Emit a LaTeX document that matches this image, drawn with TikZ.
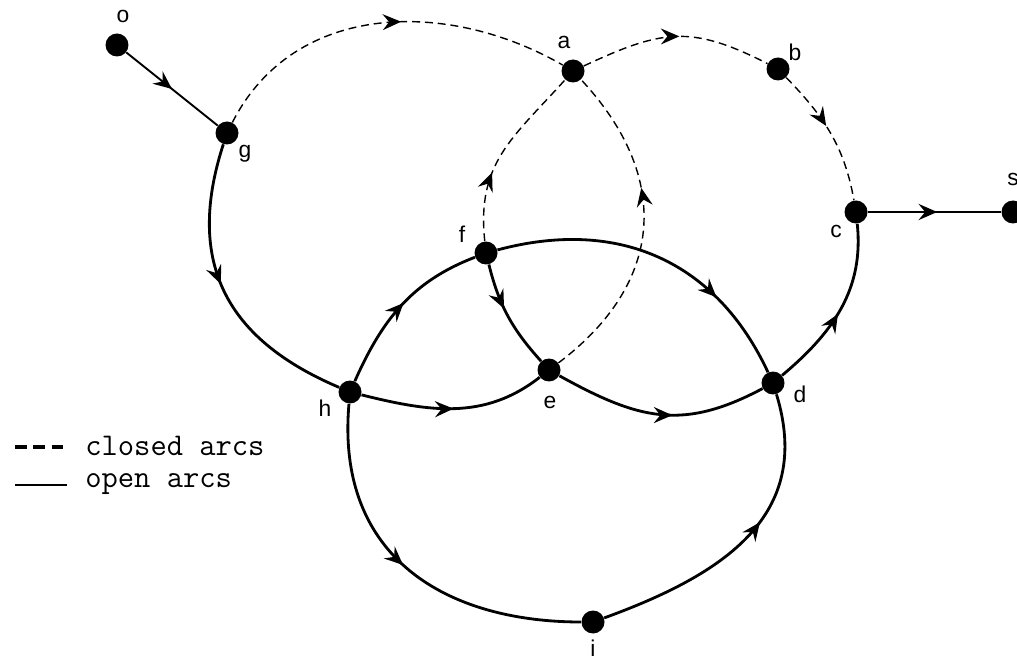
\documentclass[tikz,border=0pt]{standalone}
\usepackage{fontspec}
\setsansfont{Liberation Sans}
\usetikzlibrary{arrows.meta, decorations.markings}

\begin{document}
\begin{tikzpicture}[
    x=0.02cm, y=0.02cm,
    vtx/.style={circle, fill=black, minimum size=4.6mm, inner sep=0pt},
    lbl/.style={font=\sffamily\fontsize{13}{15}\selectfont, inner sep=0pt},
    legtxt/.style={font=\ttfamily\fontsize{18}{21}\selectfont, anchor=base west, inner sep=0pt},
    openarc/.style={line width=1.6pt},
    closedarc/.style={line width=0.8pt, dash pattern=on 4.5pt off 2.8pt},
    midarrow/.style={postaction={decorate}, decoration={markings,
        mark=at position #1 with {\arrow{Stealth[length=3.7mm, width=3.2mm, inset=1.3mm]}}}},
    midarrow/.default=0.5
]

% marco de la figura
\useasboundingbox (0,0) rectangle (1017,663);

% ==========================
% NODOS
% ==========================
\foreach \n/\x/\y in {
    o/117/618, g/227/530, a/573/592, b/778/594, c/856/451, s/1013/451,
    f/486/410, e/549/293, d/773/280, h/350/271, i/593/41
} {
    \node[vtx] (\n) at (\x,\y) {};
}

% Etiquetas de los nodos
\foreach \n/\x/\y in {
    o/123/647, g/245/509, a/564/621, b/795/611, c/836/432, s/1013/484,
    f/462/429, e/550/261, d/800/269, h/325/255, i/593/15
} {
    \node[lbl] (\n-lbl) at (\x,\y) {\n};
}

% ==========================
% ARCOS ABIERTOS
% ==========================
\draw[line width=1.1pt, midarrow=0.5] (o) -- (g);
\draw[openarc, midarrow=0.52] (c) -- (s);

\foreach \src/\dst/\out/\in/\lo/\li/\pos in {
    g/h/-108/157/1.2/1.15/0.47,
    h/e/-14/218/1.0/1.0/0.5,
    h/f/66/201/1.0/1.0/0.52,
    f/e/-76/132/1.0/1.0/0.42,
    f/d/15/115/1.09/1.05/0.72,
    e/d/-29/208/1.14/1.14/0.56,
    d/c/40/-84/1.0/1.0/0.47,
    h/i/-95/180/1.25/1.07/0.48,
    i/d/20/-73/1.15/1.15/0.58
} {
    \draw[openarc, midarrow=\pos] (\src) to[out=\out, in=\in, out looseness=\lo, in looseness=\li] (\dst);
}

% ==========================
% ARCOS CERRADOS
% ==========================
\foreach \src/\dst/\out/\in/\lo/\li/\pos in {
    g/a/63/150/1.05/1.0/0.55,
    a/b/25/153/1.2/1.2/0.52,
    b/c/-46/100/1.0/1.0/0.44,
    f/a/96/228/1.12/1.12/0.37,
    e/a/37/313/1.2/1.2/0.62
} {
    \draw[closedarc, midarrow=\pos] (\src) to[out=\out, in=\in, out looseness=\lo, in looseness=\li] (\dst);
}

% ==========================
% LEYENDA
% ==========================
\coordinate (lc1) at (15,216);
\coordinate (lc2) at (67,216);
\coordinate (lo1) at (15,178);
\coordinate (lo2) at (67,178);
\draw[line width=2pt, dash pattern=on 6.8pt off 3.6pt] (lc1) -- (lc2);
\draw[line width=0.7pt] (lo1) -- (lo2);
\node[legtxt] (leg-closed) at (85,208) {closed arcs};
\node[legtxt] (leg-open) at (85,176) {open arcs};

\end{tikzpicture}
\end{document}
